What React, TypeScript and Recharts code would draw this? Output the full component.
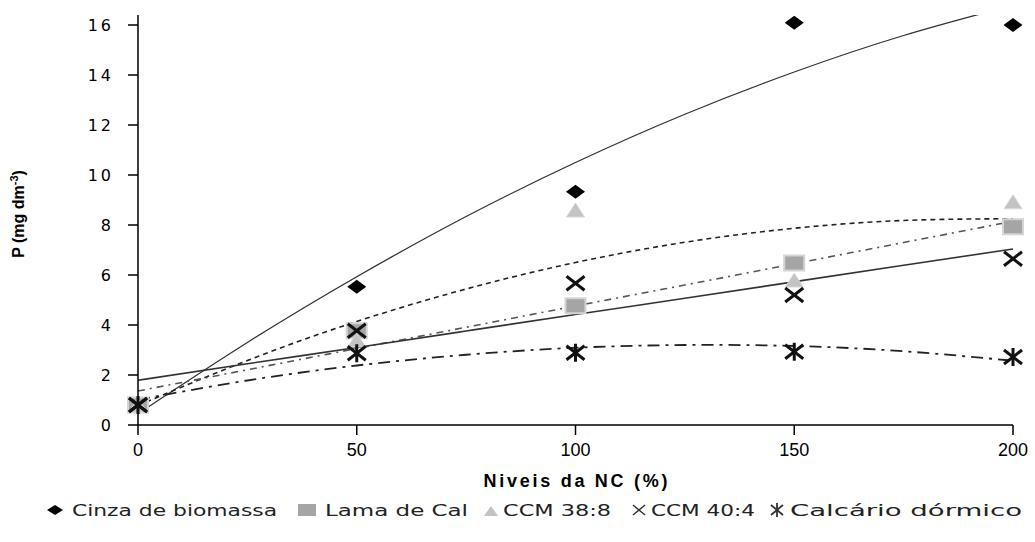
import React from 'react';
import { ComposedChart, Line, Scatter, XAxis, YAxis, Legend } from 'recharts';

// Observed values (P, mg dm-3) at each NC level
const levels = [0, 50, 100, 150, 200];
const cinza = [0.8, 5.53, 9.33, 16.09, 16.0];
const lama = [0.8, 3.77, 4.77, 6.48, 7.93];
const ccm388 = [0.8, 3.4, 8.6, 5.8, 8.93];
const ccm404 = [0.8, 3.77, 5.67, 5.2, 6.65];
const calcario = [0.8, 2.87, 2.89, 2.93, 2.72];

// Trend lines
const trendX = [0, 25, 50, 75, 100, 125, 150, 175, 200];
const cinzaTrend = [0.45, 3.3, 5.93, 8.34, 10.5, 12.43, 14.12, 15.58, 16.79];
const lamaTrend = [1.36, 2.21, 3.06, 3.91, 4.76, 5.6, 6.45, 7.3, 8.15];
const ccm388Trend = [0.78, 2.58, 4.14, 5.44, 6.5, 7.31, 7.87, 8.18, 8.25];
const ccm404Trend = [1.79, 2.45, 3.1, 3.76, 4.42, 5.07, 5.73, 6.39, 7.04];
const calcarioTrend = [1.01, 1.78, 2.38, 2.81, 3.09, 3.2, 3.16, 2.95, 2.57];

const xTicks = [0, 50, 100, 150, 200];
const yTicks = [0, 2, 4, 6, 8, 10, 12, 14, 16];

const seriesNames = ['Cinza de biomassa', 'Lama de Cal', 'CCM 38:8', 'CCM 40:4', 'Calcário dórmico'];
const xTitle = 'Niveis da NC (%)';

const trendData = trendX.map((x, i) => ({
  x,
  cinzaT: cinzaTrend[i],
  lamaT: lamaTrend[i],
  ccm388T: ccm388Trend[i],
  ccm404T: ccm404Trend[i],
  calcT: calcarioTrend[i],
}));

const toPts = (vals: number[]) => levels.map((x, i) => ({ x, y: vals[i] }));

const Diamond = (p: any) => {
  const { cx, cy } = p;
  if (cx == null || cy == null) return <g />;
  return <polygon points={`${cx - 9.5},${cy} ${cx},${cy - 7} ${cx + 9.5},${cy} ${cx},${cy + 7}`} fill="#000" />;
};
const Square = (p: any) => {
  const { cx, cy } = p;
  if (cx == null || cy == null) return <g />;
  return <rect x={cx - 10} y={cy - 7.5} width={20} height={15} fill="#A5A5A5" stroke="#D4D4D4" strokeWidth={2} />;
};
const Triangle = (p: any) => {
  const { cx, cy } = p;
  if (cx == null || cy == null) return <g />;
  return <polygon points={`${cx - 9},${cy + 7} ${cx},${cy - 7} ${cx + 9},${cy + 7}`} fill="#C3C3C3" stroke="#D8D8D8" strokeWidth={1} />;
};
const XMark = (p: any) => {
  const { cx, cy } = p;
  if (cx == null || cy == null) return <g />;
  return (
    <g stroke="#111" strokeWidth={3}>
      <line x1={cx - 9} y1={cy - 7} x2={cx + 9} y2={cy + 7} />
      <line x1={cx - 9} y1={cy + 7} x2={cx + 9} y2={cy - 7} />
    </g>
  );
};
const Asterisk = (p: any) => {
  const { cx, cy } = p;
  if (cx == null || cy == null) return <g />;
  return (
    <g stroke="#111" strokeWidth={3}>
      <line x1={cx - 9} y1={cy - 7} x2={cx + 9} y2={cy + 7} />
      <line x1={cx - 9} y1={cy + 7} x2={cx + 9} y2={cy - 7} />
      <line x1={cx} y1={cy - 9} x2={cx} y2={cy + 9} />
    </g>
  );
};

// legend layout: icon centre, text start, text width
const legendLayout = [
  { ic: 55, tx: 72, tw: 205 },
  { ic: 307, tx: 325, tw: 143 },
  { ic: 491, tx: 503, tw: 108 },
  { ic: 639, tx: 651, tw: 104 },
  { ic: 777, tx: 790, tw: 232 },
];

const legendIcon = (i: number, c: number, m: number) => {
  switch (i) {
    case 0:
      return <polygon points={`${c - 8},${m} ${c},${m - 5} ${c + 8},${m} ${c},${m + 5}`} fill="#000" />;
    case 1:
      return <rect x={c - 9} y={m - 6} width={18} height={12} fill="#A5A5A5" />;
    case 2:
      return <polygon points={`${c - 7},${m + 6} ${c},${m - 4} ${c + 7},${m + 6}`} fill="#C3C3C3" />;
    case 3:
      return (
        <g stroke="#333" strokeWidth={1.5}>
          <line x1={c - 6} y1={m - 5} x2={c + 6} y2={m + 5} />
          <line x1={c - 6} y1={m + 5} x2={c + 6} y2={m - 5} />
        </g>
      );
    default:
      return (
        <g stroke="#333" strokeWidth={1.8}>
          <line x1={c - 6} y1={m - 5} x2={c + 6} y2={m + 5} />
          <line x1={c - 6} y1={m + 5} x2={c + 6} y2={m - 5} />
          <line x1={c} y1={m - 7} x2={c} y2={m + 7} />
        </g>
      );
  }
};

const renderLegend = () => {
  const m = 15;
  return (
    <svg width={1035} height={30} style={{ display: 'block' }}>
      {seriesNames.map((n, i) => {
        const L = legendLayout[i];
        return (
          <g key={n}>
            {legendIcon(i, L.ic, m)}
            <text
              x={L.tx}
              y={m + 6}
              fontFamily="DejaVu Sans"
              fontSize={16}
              fill="#222"
              textLength={L.tw}
              lengthAdjust="spacingAndGlyphs"
            >
              {n}
            </text>
          </g>
        );
      })}
    </svg>
  );
};

const YTitle = (props: any) => {
  const vb = props.viewBox || { x: 0, y: 15, width: 138, height: 410 };
  const cx = 24;
  const cy = vb.y + vb.height / 2 - 6;
  return (
    <text
      transform={`rotate(-90 ${cx} ${cy})`}
      x={cx}
      y={cy}
      textAnchor="middle"
      fontFamily="Liberation Sans"
      fontWeight="bold"
      fontSize={16}
      fill="#000"
    >
      P (mg dm<tspan dy={-6} fontSize={11}>-3</tspan><tspan dy={6}>)</tspan>
    </text>
  );
};

const XTitle = (props: any) => {
  const vb = props.viewBox || { x: 138, y: 425, width: 875, height: 70 };
  return (
    <text
      x={vb.x + vb.width / 2 - 92}
      y={vb.y + 62}
      fontFamily="Liberation Sans"
      fontWeight="bold"
      fontSize={18}
      textLength={184}
      lengthAdjust="spacing"
      fill="#000"
    >
      {xTitle}
    </text>
  );
};

export default function App() {
  return (
    <div style={{ position: 'absolute', left: 0, top: 0, background: '#fff' }}>
      <ComposedChart
        width={1035}
        height={542}
        data={trendData}
        margin={{ top: 15, right: 22, left: 0, bottom: 17 }}
      >
        <XAxis
          dataKey="x"
          type="number"
          domain={[0, 200]}
          ticks={xTicks}
          height={70}
          tickSize={10}
          tickMargin={8}
          axisLine={{ stroke: '#000', strokeWidth: 1.5 }}
          tickLine={{ stroke: '#000', strokeWidth: 1.5 }}
          tick={{ fontFamily: 'Liberation Sans', fontSize: 18, fill: '#000' }}
          label={{ content: XTitle }}
        />
        <YAxis
          type="number"
          domain={[0, 16.4]}
          allowDataOverflow
          ticks={yTicks}
          width={138}
          tickSize={10}
          tickMargin={14}
          axisLine={{ stroke: '#000', strokeWidth: 1.5 }}
          tickLine={{ stroke: '#000', strokeWidth: 1.5 }}
          tick={{ fontFamily: 'DejaVu Sans', fontSize: 16, fill: '#000', letterSpacing: 3 }}
          label={{ content: YTitle }}
        />
        <Legend verticalAlign="bottom" content={renderLegend} wrapperStyle={{ left: 0, width: 1035 }} />
        <Scatter name={seriesNames[0]} data={toPts(cinza)} dataKey="y" shape={Diamond} isAnimationActive={false} legendType="none" />
        <Scatter name={seriesNames[1]} data={toPts(lama)} dataKey="y" shape={Square} isAnimationActive={false} legendType="none" />
        <Scatter name={seriesNames[2]} data={toPts(ccm388)} dataKey="y" shape={Triangle} isAnimationActive={false} legendType="none" />
        <Scatter name={seriesNames[3]} data={toPts(ccm404)} dataKey="y" shape={XMark} isAnimationActive={false} legendType="none" />
        <Scatter name={seriesNames[4]} data={toPts(calcario)} dataKey="y" shape={Asterisk} isAnimationActive={false} legendType="none" />
        <Line dataKey="cinzaT" type="natural" stroke="#333" strokeWidth={1.3} dot={false} activeDot={false} isAnimationActive={false} legendType="none" />
        <Line dataKey="ccm388T" type="natural" stroke="#222" strokeWidth={1.6} strokeDasharray="5 4" dot={false} activeDot={false} isAnimationActive={false} legendType="none" />
        <Line dataKey="lamaT" type="natural" stroke="#555" strokeWidth={1.6} strokeDasharray="7 5 2 5" dot={false} activeDot={false} isAnimationActive={false} legendType="none" />
        <Line dataKey="ccm404T" type="natural" stroke="#333" strokeWidth={1.6} dot={false} activeDot={false} isAnimationActive={false} legendType="none" />
        <Line dataKey="calcT" type="natural" stroke="#222" strokeWidth={1.8} strokeDasharray="12 6 3 6" dot={false} activeDot={false} isAnimationActive={false} legendType="none" />
      </ComposedChart>
    </div>
  );
}
